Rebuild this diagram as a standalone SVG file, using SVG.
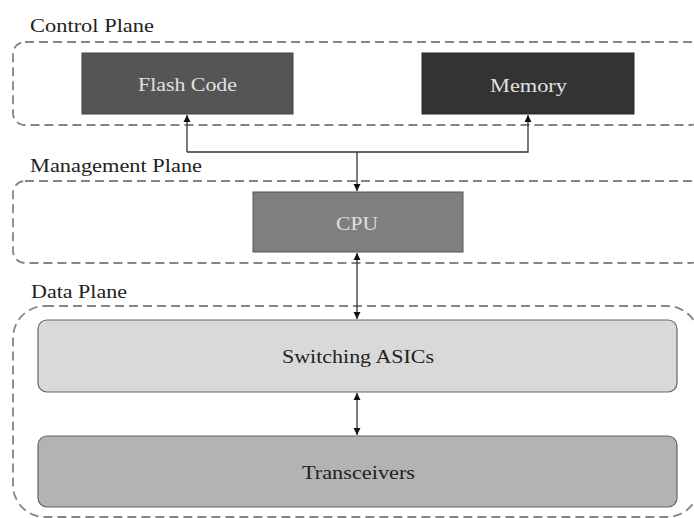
<svg xmlns="http://www.w3.org/2000/svg" width="694" height="518" viewBox="0 0 694 518">
<style>
.plane{fill:none;stroke:#858585;stroke-width:1.8;stroke-dasharray:9 5}
.lbl{font-family:"Liberation Serif",serif;font-size:18px;fill:#222}
.nt{font-family:"Liberation Serif",serif;font-size:18px;text-anchor:middle}
.light{fill:#e0e0e0}
.dark{fill:#222}
.conn{fill:none;stroke:#333;stroke-width:1.3}
</style>
<defs>
<marker id="ah" viewBox="0 0 10 10" refX="10" refY="5" markerWidth="7" markerHeight="9" markerUnits="userSpaceOnUse" orient="auto-start-reverse">
<path d="M0,0 L10,5 L0,10 z" fill="#111"/>
</marker>
</defs>
<rect width="694" height="518" fill="#fff"/>
<g id="control-plane">
<rect class="plane" x="13" y="42" width="690" height="83" rx="12"/>
<text class="lbl" x="30" y="32" textLength="124" lengthAdjust="spacingAndGlyphs">Control Plane</text>
</g>
<g id="management-plane">
<rect class="plane" x="13" y="181" width="690" height="82" rx="12"/>
<text class="lbl" x="30" y="172" textLength="172" lengthAdjust="spacingAndGlyphs">Management Plane</text>
</g>
<g id="data-plane">
<rect class="plane" x="13" y="306" width="686" height="211" rx="32"/>
<text class="lbl" x="31" y="298" textLength="96" lengthAdjust="spacingAndGlyphs">Data Plane</text>
</g>
<g id="flash-code">
<rect x="82" y="53" width="211" height="61" fill="#555" stroke="#444" stroke-width="1"/>
<text class="nt light" x="187.5" y="91" textLength="99" lengthAdjust="spacingAndGlyphs">Flash Code</text>
</g>
<g id="memory">
<rect x="422" y="53" width="212" height="61" fill="#333" stroke="#2a2a2a" stroke-width="1"/>
<text class="nt light" x="528.5" y="92" textLength="77" lengthAdjust="spacingAndGlyphs">Memory</text>
</g>
<g id="cpu">
<rect x="253" y="192" width="210" height="60" fill="#7f7f7f" stroke="#555" stroke-width="1"/>
<text class="nt light" x="357" y="230" textLength="42" lengthAdjust="spacingAndGlyphs">CPU</text>
</g>
<g id="switching-asics">
<rect x="38" y="320" width="639" height="72" rx="9" fill="#d9d9d9" stroke="#666" stroke-width="1.2"/>
<text class="nt dark" x="358" y="363" textLength="152" lengthAdjust="spacingAndGlyphs">Switching ASICs</text>
</g>
<g id="transceivers">
<rect x="38" y="436" width="639" height="71" rx="9" fill="#b3b3b3" stroke="#666" stroke-width="1.2"/>
<text class="nt dark" x="358.5" y="479" textLength="113" lengthAdjust="spacingAndGlyphs">Transceivers</text>
</g>
<g id="connectors">
<polyline class="conn" points="187,152 187,115" marker-end="url(#ah)"/>
<polyline class="conn" points="187,152 528,152 528,115" marker-end="url(#ah)"/>
<line class="conn" x1="357" y1="152" x2="357" y2="191" marker-end="url(#ah)"/>
<line class="conn" x1="357" y1="253" x2="357" y2="319" marker-start="url(#ah)" marker-end="url(#ah)"/>
<line class="conn" x1="357" y1="393" x2="357" y2="435" marker-start="url(#ah)" marker-end="url(#ah)"/>
</g>
</svg>
